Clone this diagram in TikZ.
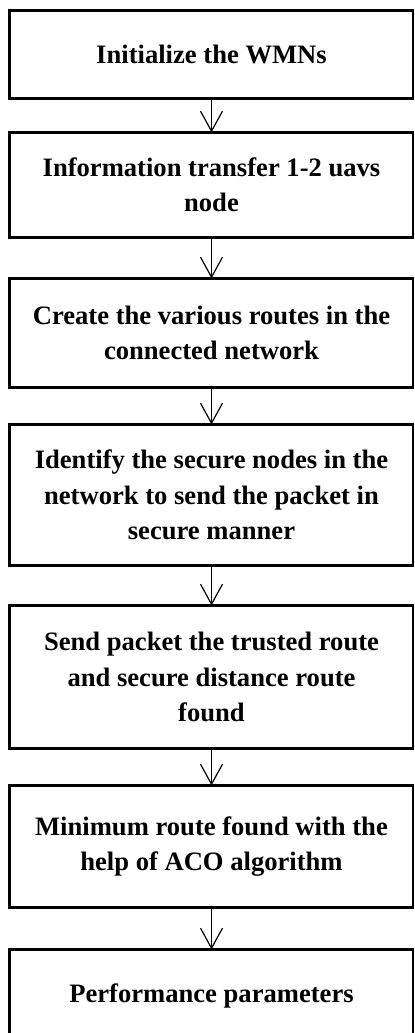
\documentclass[tikz,border=0pt]{standalone}
\usepackage{fontspec}
\setmainfont{Liberation Serif}
\usepackage{tikz}
\usetikzlibrary{arrows.meta}

\begin{document}
\begin{tikzpicture}[x=0.5pt,y=-0.5pt,
   flowbox/.style={draw, line width=0.6pt, minimum width=201.5pt, inner sep=0pt,
      align=center, font=\fontsize{13.3}{17.7}\selectfont\bfseries},
   boxedge/.style={line width=1.8pt},
   flowarrow/.style={line width=0.6pt, -{Straight Barb[length=10pt,width=11pt]}}]
   \useasboundingbox (0,0) rectangle (415,1033);
   \clip (0,0) rectangle (415,1033);

   \node [flowbox, minimum height=43.5pt] (init) at (211.5,54.5) {Initialize the WMNs};
   \node [flowbox, minimum height=52pt] (transfer) at (211.5,185) {Information transfer 1-2 uavs\\node};
   \node [flowbox, minimum height=54pt] (routes) at (211.5,333) {Create the various routes in the\\connected network};
   \node [flowbox, minimum height=70pt] (secure) at (211.5,495) {Identify the secure nodes in the\\network to send the packet in\\secure manner};
   \node [flowbox, minimum height=71pt] (send) at (211.5,677) {Send packet the trusted route\\and secure distance route\\found};
   \node [flowbox, minimum height=60.5pt] (aco) at (211.5,846.5) {Minimum route found with the\\help of ACO algorithm};
   \node [flowbox, minimum height=46pt] (perf) at (211.5,996) {Performance parameters};

   % heavy left, top and bottom edges
   \foreach \b in {init,transfer,routes,secure,send,aco,perf}
      \draw [boxedge] (\b.north east) -- (\b.north west) -- (\b.south west) -- (\b.south east);

   \foreach \a/\b in {init/transfer,transfer/routes,routes/secure,secure/send,send/aco,aco/perf}
      \draw [flowarrow] (\a.south) -- (\b.north);

\end{tikzpicture}
\end{document}
